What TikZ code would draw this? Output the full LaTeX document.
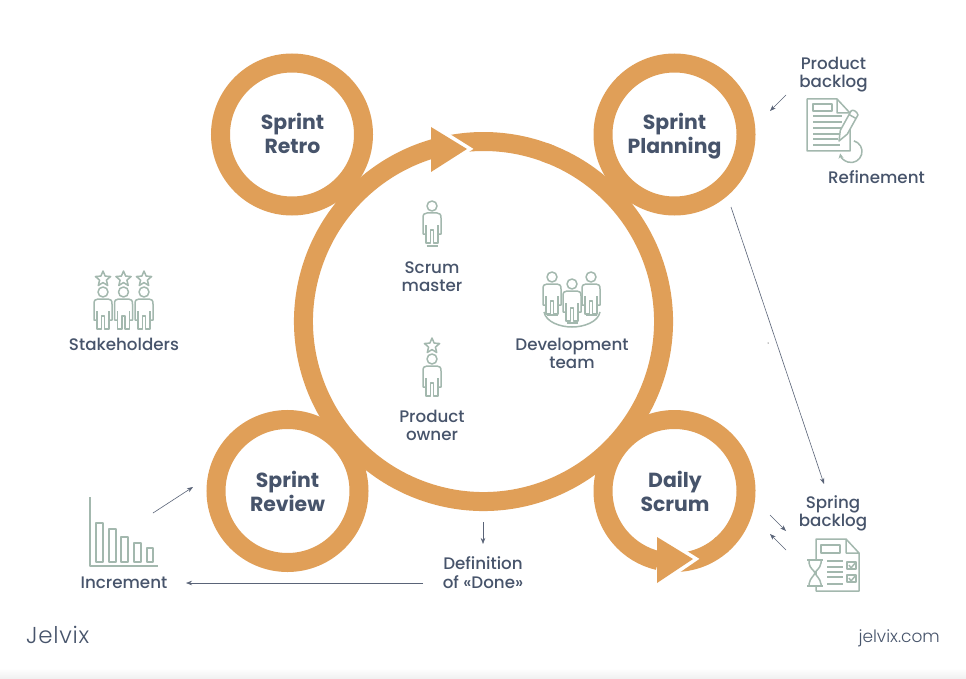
\documentclass[tikz,border=0pt]{standalone}
\usepackage{fontspec}
\setmainfont{Poppins Medium}[BoldFont={Poppins Bold}]
\newfontfamily\logofont[LetterSpace=3]{Poppins Light}
\newfontfamily\urlfont{Poppins Light}
\usetikzlibrary{arrows.meta}
\definecolor{ring}{HTML}{E09F58}
\definecolor{ink}{HTML}{47546B}
\definecolor{sage}{HTML}{A3B8AE}
\definecolor{thin}{HTML}{5A6478}
\tikzset{
  x=1pt,y=-1pt,
  circlering/.style={draw=ring,line width=19pt},
  bigband/.style={draw=ring,line width=19pt},
  headshape/.style={fill=ring,draw=white,line width=7pt,miter limit=10},
  titletext/.style={text=ink,align=center,inner sep=0pt,font=\fontsize{20.4}{24}\selectfont\bfseries},
  labeltext/.style={text=ink,align=center,inner sep=0pt,font=\fontsize{16.7}{18}\selectfont},
  icon/.style={draw=sage,line width=1.5pt,line join=round},
  thinarrow/.style={draw=thin,line width=0.6pt,-{Stealth[length=6pt,width=4.5pt]}},
  pics/personicon/.style={code={
    \draw[icon] (0,0) circle (5);
    \draw[icon] (-6,19) -- (-6,37) -- (-1.5,37) -- (-1.5,24) -- (1.5,24) -- (1.5,37) -- (6,37) -- (6,19);
    \draw[icon] (-6.2,28) -- (-9,28) -- (-9,12) .. controls (-9,8.5) and (-8,7) .. (-5,7) -- (5,7) .. controls (8,7) and (9,8.5) .. (9,12) -- (9,28) -- (6.2,28);
  }},
  pics/footbar/.style={code={\draw[icon,line width=1.8pt] (-5.5,40) -- (5.5,40);}},
  pics/staricon/.style={code={
    \draw[icon] (0,-8) -- (2.12,-2.91) -- (7.6,-2.47) -- (3.42,1.11) -- (4.7,6.47) -- (0,3.6) -- (-4.7,6.47) -- (-3.42,1.11) -- (-7.6,-2.47) -- (-2.12,-2.91) -- cycle;
  }}
}
\begin{document}
\begin{tikzpicture}
\useasboundingbox (0,0) rectangle (966,679);
\fill[white] (0,0) rectangle (966,679);
\shade[top color=white,bottom color=black!6] (0,668) rectangle (966,679);

% big ring
\draw[bigband] (483.5,321.5) ++(-103:180) arc (-103:-68:180);
\path[headshape] (432,127) -- (467,149) -- (432,172) -- cycle;
\draw[bigband] (483.5,321.5) ++(-70:180) arc (-70:254:180);
\fill[ring] (431,127) -- (467,149) -- (431,172) -- cycle;

% circles
\draw[circlering] (292,134.5) circle (71.5);
\draw[circlering] (674.5,134.5) circle (71.5);
\draw[circlering] (287.5,491) circle (71.5);

% daily scrum ring
\draw[circlering] (674.5,491) ++(95:71.5) arc (95:48:71.5);
\path[headshape] (658,537) -- (693,559) -- (658,583) -- cycle;
\draw[circlering] (674.5,491) ++(50:71.5) arc (50:-257:71.5);
\fill[ring] (657,537) -- (693,559) -- (657,583) -- cycle;

% titles
\node[titletext] (retro) at (292.5,137) {\strut Sprint\\\strut Retro};
\node[titletext] (planning) at (674.5,137) {\strut Sprint\\\strut Planning};
\node[titletext] (review) at (287.5,494.5) {\strut Sprint\\\strut Review};
\node[titletext] (daily) at (675,494.5) {\strut Daily\\\strut Scrum};

% labels
\node[labeltext] (scrummaster) at (432,278.5) {\strut Scrum\\\strut master};
\node[labeltext] (productowner) at (432,427.5) {\strut Product\\\strut owner};
\node[labeltext] (devteam) at (572,356) {\strut Development\\\strut team};
\node[labeltext] (stakeholders) at (124,346.4) {\strut Stakeholders};
\node[labeltext] (productbacklog) at (833.5,75) {\strut Product\\\strut backlog};
\node[labeltext] (refinement) at (876.5,180) {\strut Refinement};
\node[labeltext] (springbacklog) at (833,514.2) {\strut Spring\\\strut backlog};
\node[labeltext] (increment) at (124,584.7) {\strut Increment};
\node[labeltext] (definition) at (483,575.4) {\strut Definition\\\strut of «Done»};
\node[text=ink,inner sep=0pt,anchor=base west,font=\fontsize{23}{24}\selectfont\logofont] (logo) at (26,643) {Jelvix};
\node[text=ink,inner sep=0pt,anchor=base east,font=\fontsize{17}{18}\selectfont\urlfont] (url) at (940,642) {jelvix.com};

% people
\pic at (432,206) {personicon};
\pic at (432,206) {footbar};
\pic at (432,359) {personicon};
\pic at (432,346) {staricon};
\pic at (552,277) {personicon};
\pic at (552,275) {footbar};
\pic at (591,277) {personicon};
\pic at (591,275) {footbar};
\pic at (572,284) {personicon};
\pic at (572,283) {footbar};
\draw[icon] (544,312) .. controls (546,322) and (560,327) .. (572,327) .. controls (584,327) and (598,322) .. (600,312);
\foreach \px in {103,123.5,144}{
  \pic at (\px,292) {personicon};
  \pic at (\px,279) {staricon};
}

% product backlog icon
\draw[icon] (837,99) -- (807,99) -- (807,151) -- (850,151) -- (850,113) -- (837,99) -- (837,113) -- (850,113);
\draw[icon] (813,104) rectangle (832,111);
\draw[icon] (813,116) -- (842,116);
\draw[icon] (813,122) -- (842,122);
\draw[icon] (813,128) -- (842,128);
\draw[icon] (813,134) -- (840,134);
\draw[icon] (813,139) -- (838,139);
\draw[icon] (813,145) -- (840,145);
\draw[icon,fill=white] (839,141) -- (840.3,130.3) -- (851,111.1) .. controls (852,109) and (857,111) .. (858,114.9) -- (847.3,134.1) -- cycle;
\draw[icon] (849,114.5) -- (856,118.5);
\draw[icon,-{Stealth[length=5pt,width=5pt]}] (851,151.5) ++(-75:11) arc (-75:170:11);

% sprint backlog icon
\draw[icon] (846,539) -- (816,539) -- (816,591) -- (859,591) -- (859,553) -- (846,539) -- (846,553) -- (859,553);
\draw[icon] (821,545) rectangle (840,553);
\draw[icon] (827,561) -- (843,561);
\draw[icon] (827,567) -- (843,567);
\draw[icon] (827,572) -- (843,572);
\draw[icon] (827,577) -- (843,577);
\draw[icon] (827,584) -- (843,584);
\draw[icon] (847,562) rectangle (856,569);
\draw[icon] (847,575) rectangle (856,582);
\draw[icon] (849,565) -- (851,568) -- (856,562);
\draw[icon] (849,578) -- (851,581) -- (856,575);
\draw[icon,fill=white] (809,560) -- (809,563) .. controls (810,569) and (814,570) .. (815,573) .. controls (814,576) and (810,578) .. (809,584) -- (809,586) -- (821,586) -- (821,584) .. controls (820,578) and (816,576) .. (815,573) .. controls (816,570) and (820,569) .. (821,563) -- (821,560) -- cycle;
\draw[icon,line width=2pt] (807,560) -- (823,560);
\draw[icon,line width=2pt] (807,586) -- (823,586);

% increment icon
\draw[icon] (90,497) -- (90,566) -- (158,566);
\draw[icon] (96,523) rectangle (103,562);
\draw[icon] (109,529) rectangle (116,562);
\draw[icon] (121,537) rectangle (128,562);
\draw[icon] (134,543) rectangle (141,562);
\draw[icon] (147,548) rectangle (153,562);

% stray speck
\fill[thin] (768,343) circle (0.5);

% connector ends
\coordinate (pbA) at (786,95);
\coordinate (pbB) at (770,111);
\coordinate (spA) at (731,207);
\coordinate (spB) at (824,484);
\coordinate (sbA) at (770,515);
\coordinate (sbB) at (786,531);
\coordinate (sbC) at (786,550);
\coordinate (sbD) at (770,534);
\coordinate (ddA) at (483,522);
\coordinate (ddB) at (483,544);
\coordinate (diA) at (423,583);
\coordinate (diB) at (186,583);
\coordinate (irA) at (153,513);
\coordinate (irB) at (193,487);
\draw[thinarrow] (pbA) -- (pbB);
\draw[thinarrow] (spA) -- (spB);
\draw[thinarrow] (sbA) -- (sbB);
\draw[thinarrow] (sbC) -- (sbD);
\draw[thinarrow] (ddA) -- (ddB);
\draw[thinarrow] (diA) -- (diB);
\draw[thinarrow] (irA) -- (irB);
\end{tikzpicture}
\end{document}
